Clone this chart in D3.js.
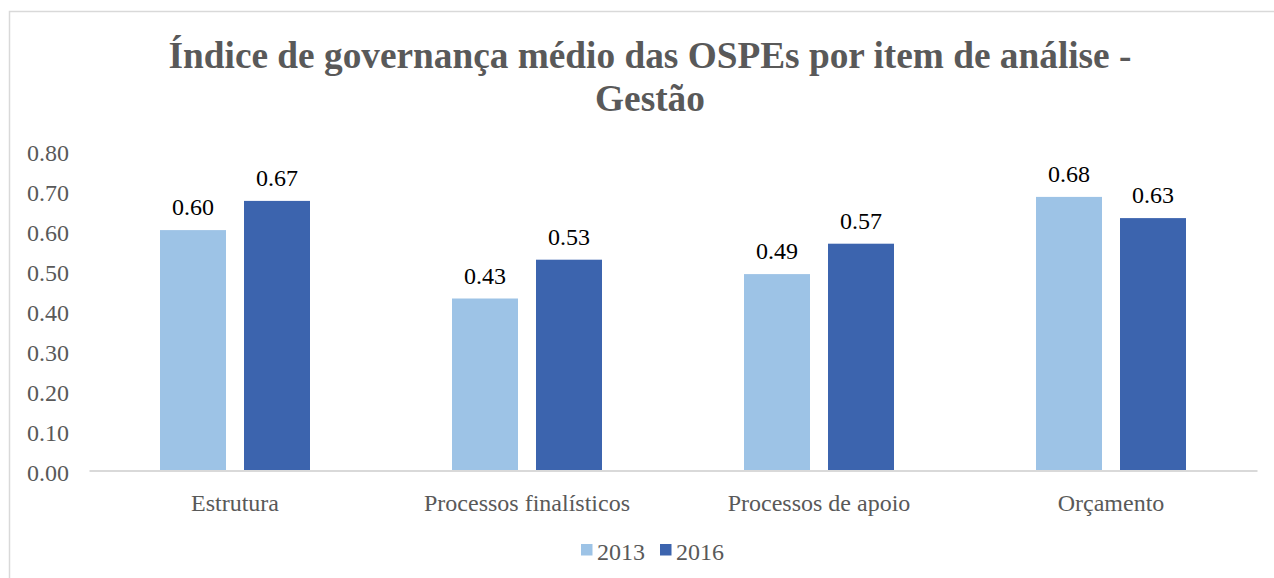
<!DOCTYPE html>
<html>
<head>
<meta charset="utf-8">
<script src="https://cdn.jsdelivr.net/npm/d3@7"></script>
<style>
  body { margin: 0; background: #fff; }
  svg text { font-family: 'Liberation Serif', 'Times New Roman', serif !important; }
</style>
</head>
<body>
<svg id="chart" width="1274" height="578"></svg>
<script>
// 데이터: 항목, 연도, 값
const categories = ['Estrutura', 'Processos finalísticos', 'Processos de apoio', 'Orçamento'];
const seriesNames = ['2013', '2016'];
const values2013 = [0.601, 0.430, 0.491, 0.684];
const values2016 = [0.674, 0.527, 0.567, 0.631];
const yTicks = [0, 0.1, 0.2, 0.3, 0.4, 0.5, 0.6, 0.7, 0.8];
const colors = ['#9dc3e6', '#3c64ae'];

const seriesValues = [values2013, values2016];

const svg = d3.select('#chart');

// 바깥 테두리
svg.append('rect')
  .attr('x', 9.5).attr('y', 11.5)
  .attr('width', 1300).attr('height', 600)
  .attr('fill', 'none').attr('stroke', '#d9d9d9').attr('stroke-width', 1.5);

// 제목 (두 줄)
const title = svg.append('text')
  .attr('text-anchor', 'middle')
  .attr('font-weight', 'bold')
  .attr('font-size', 37.3)
  .attr('fill', '#595959');
title.append('tspan').attr('x', 650).attr('y', 68).text('Índice de governança médio das OSPEs por item de análise -');
title.append('tspan').attr('x', 650).attr('y', 111).text('Gestão');

// 스케일
const x0 = d3.scaleBand().domain(categories).range([89, 1257]).padding(0);
const x1 = d3.scaleBand().domain(seriesNames)
  .range([71, x0.bandwidth() - 71])
  .paddingInner(18 / 84).paddingOuter(0);
const y = d3.scaleLinear().domain([0, 0.8]).range([470.5, 150.5]);

// y축 눈금 라벨 (선 없음)
const yAxis = svg.append('g')
  .attr('transform', 'translate(69,0)')
  .call(d3.axisLeft(y).tickValues(yTicks).tickFormat(d3.format('.2f')).tickSize(0).tickPadding(0));
yAxis.select('.domain').remove();
yAxis.selectAll('text')
  .attr('font-size', 24)
  .attr('fill', '#595959')
  .attr('dy', '0.42em');

// 막대
const groups = svg.append('g').selectAll('g')
  .data(categories)
  .join('g')
  .attr('transform', d => `translate(${x0(d)},0)`);

groups.selectAll('rect')
  .data((d, i) => seriesNames.map((s, j) => ({ s, v: seriesValues[j][i], j })))
  .join('rect')
  .attr('x', d => x1(d.s))
  .attr('y', d => y(d.v))
  .attr('width', x1.bandwidth())
  .attr('height', d => y(0) - y(d.v))
  .attr('fill', d => colors[d.j]);

// 값 라벨
groups.selectAll('text.val')
  .data((d, i) => seriesNames.map((s, j) => ({ s, v: seriesValues[j][i] })))
  .join('text')
  .attr('class', 'val')
  .attr('x', d => x1(d.s) + x1.bandwidth() / 2)
  .attr('y', d => y(d.v) - 15)
  .attr('text-anchor', 'middle')
  .attr('font-size', 24)
  .attr('fill', '#000')
  .text(d => d.v.toFixed(2));

// x축 (기준선 + 항목 라벨)
const xAxis = svg.append('g')
  .attr('transform', `translate(0,${y(0)})`)
  .call(d3.axisBottom(x0).tickSize(0).tickPadding(0).tickSizeOuter(0));
xAxis.select('.domain').attr('stroke', '#d9d9d9').attr('stroke-width', 2);
xAxis.selectAll('text')
  .attr('font-size', 24)
  .attr('fill', '#595959')
  .attr('dy', null)
  .attr('y', 40);

// 범례
const legendX = [581, 660];
const legend = svg.append('g').selectAll('g')
  .data(seriesNames)
  .join('g')
  .attr('transform', (d, i) => `translate(${legendX[i]},544)`);
legend.append('rect')
  .attr('width', 11.5).attr('height', 11.5)
  .attr('fill', (d, i) => colors[i]);
legend.append('text')
  .attr('x', 16).attr('y', 16)
  .attr('font-size', 24)
  .attr('fill', '#595959')
  .text(d => d);
</script>
</body>
</html>
